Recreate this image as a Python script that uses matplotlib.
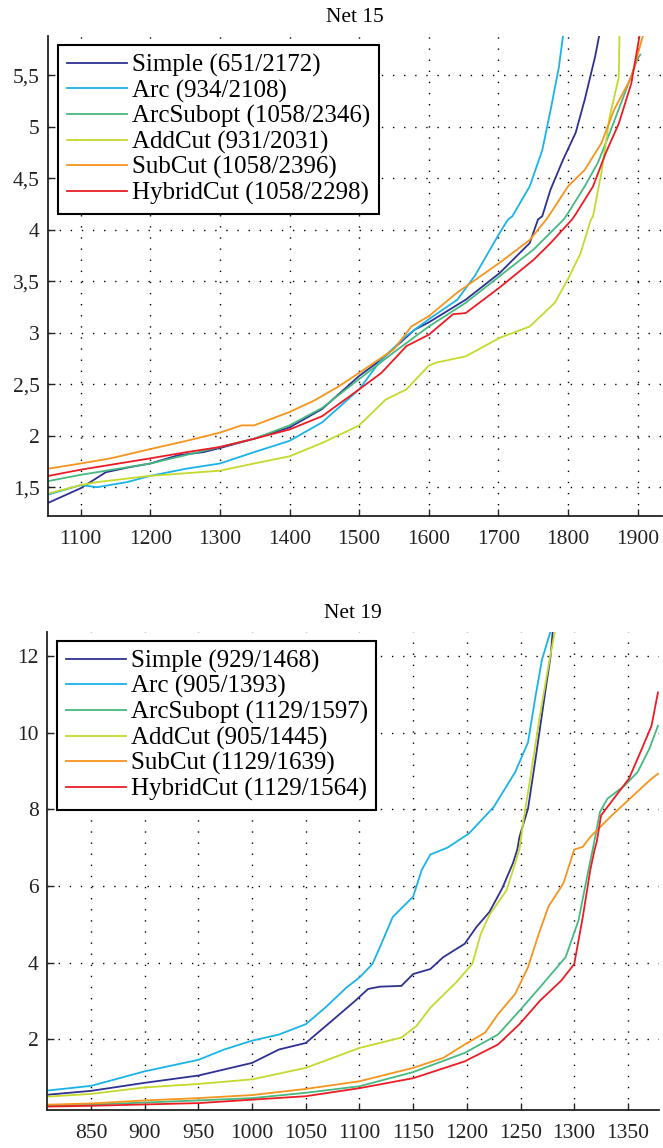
import numpy as np
import matplotlib.pyplot as plt
from matplotlib.ticker import FixedLocator, FixedFormatter

plt.rcParams['font.family'] = ['Liberation Serif', 'DejaVu Serif']

methods = ["Simple", "Arc", "ArcSubopt", "AddCut", "SubCut", "HybridCut"]
colors = ['#2e3192', '#1ab3e8', '#46b980', '#c5d92d', '#f7941d', '#ed1c24']

# Net 15
n15_counts = ["651/2172", "934/2108", "1058/2346", "931/2031", "1058/2396", "1058/2298"]
n15_simple_x = [1054, 1100, 1136, 1167, 1200, 1240, 1276, 1300, 1349, 1400, 1447, 1500, 1532, 1580, 1600,
                1653, 1702, 1745, 1757, 1763, 1775, 1793, 1811, 1824, 1839, 1845]
n15_simple_y = [1.35, 1.49, 1.645, 1.69, 1.73, 1.81, 1.84, 1.88, 1.97, 2.08, 2.26, 2.58, 2.74, 3.03, 3.10,
                3.32, 3.58, 3.87, 4.10, 4.13, 4.39, 4.68, 4.94, 5.26, 5.68, 5.89]
n15_arc_x = [1054, 1100, 1124, 1167, 1200, 1252, 1300, 1349, 1400, 1447, 1500, 1532, 1568, 1600, 1641,
             1666, 1702, 1714, 1720, 1745, 1763, 1775, 1787, 1793]
n15_arc_y = [1.43, 1.52, 1.50, 1.55, 1.61, 1.68, 1.73, 1.84, 1.95, 2.13, 2.45, 2.74, 2.97, 3.13, 3.32,
             3.55, 3.97, 4.10, 4.13, 4.42, 4.77, 5.16, 5.58, 5.89]
n15_arcsub_x = [1054, 1100, 1200, 1300, 1349, 1400, 1447, 1500, 1550, 1600, 1653, 1702, 1751, 1794, 1800,
                1824, 1843, 1860, 1878, 1900, 1904]
n15_arcsub_y = [1.56, 1.62, 1.73, 1.89, 1.97, 2.10, 2.27, 2.55, 2.81, 3.06, 3.29, 3.55, 3.81, 4.10, 4.16,
                4.42, 4.65, 4.94, 5.26, 5.66, 5.70]
n15_addcut_x = [1054, 1100, 1124, 1200, 1300, 1349, 1400, 1447, 1500, 1538, 1568, 1600, 1611, 1653, 1702,
                1745, 1781, 1800, 1818, 1833, 1836, 1848, 1860, 1873, 1874]
n15_addcut_y = [1.44, 1.52, 1.55, 1.61, 1.66, 1.73, 1.80, 1.93, 2.10, 2.35, 2.45, 2.68, 2.71, 2.77, 2.95,
                3.06, 3.29, 3.52, 3.77, 4.10, 4.13, 4.55, 5.10, 5.48, 5.89]
n15_subcut_x = [1054, 1100, 1143, 1200, 1252, 1300, 1331, 1349, 1400, 1435, 1471, 1500, 1550, 1575, 1600,
                1641, 1702, 1745, 1769, 1775, 1800, 1824, 1848, 1866, 1891, 1908]
n15_subcut_y = [1.68, 1.73, 1.78, 1.87, 1.95, 2.03, 2.10, 2.10, 2.23, 2.34, 2.48, 2.61, 2.84, 3.06, 3.16,
                3.39, 3.68, 3.90, 4.10, 4.16, 4.42, 4.58, 4.84, 5.16, 5.48, 5.89]
n15_hybrid_x = [1054, 1100, 1200, 1252, 1300, 1349, 1400, 1447, 1500, 1532, 1568, 1600, 1635, 1653, 1702,
                1751, 1775, 1806, 1812, 1836, 1854, 1873, 1891, 1903]
n15_hybrid_y = [1.61, 1.67, 1.78, 1.84, 1.89, 1.97, 2.06, 2.19, 2.45, 2.61, 2.87, 2.98, 3.18, 3.19, 3.44,
                3.71, 3.87, 4.10, 4.16, 4.42, 4.74, 5.03, 5.42, 5.89]
n15_xticks = [1100, 1200, 1300, 1400, 1500, 1600, 1700, 1800, 1900]
n15_yticks = [1.5, 2, 2.5, 3, 3.5, 4, 4.5, 5, 5.5]
n15_ylabels = ["1,5", "2", "2,5", "3", "3,5", "4", "4,5", "5", "5,5"]

# Net 19
n19_counts = ["929/1468", "905/1393", "1129/1597", "905/1445", "1129/1639", "1129/1564"]
n19_simple_x = [810, 850, 900, 950, 1000, 1025, 1050, 1076, 1096, 1108, 1119, 1139, 1150, 1166, 1178,
                1198, 1209, 1221, 1233, 1243, 1247, 1249, 1257, 1264, 1272, 1278, 1280]
n19_simple_y = [0.55, 0.65, 0.86, 1.05, 1.38, 1.73, 1.90, 2.52, 3.00, 3.31, 3.37, 3.39, 3.70, 3.83, 4.14,
                4.49, 4.93, 5.32, 5.94, 6.60, 6.95, 7.28, 8.02, 9.32, 10.87, 12.0, 12.65]
n19_arc_x = [810, 850, 900, 950, 974, 1000, 1025, 1050, 1068, 1088, 1100, 1112, 1119, 1131, 1150,
             1158, 1166, 1182, 1202, 1225, 1245, 1257, 1264, 1270, 1278]
n19_arc_y = [0.66, 0.78, 1.16, 1.46, 1.73, 1.96, 2.12, 2.39, 2.82, 3.35, 3.61, 3.96, 4.40, 5.19, 5.72,
             6.42, 6.82, 7.00, 7.37, 8.06, 8.97, 9.75, 10.96, 11.91, 12.65]
n19_arcsub_x = [810, 850, 950, 1000, 1050, 1100, 1150, 1198, 1229, 1249, 1268, 1292, 1304, 1312, 1318,
                1324, 1331, 1347, 1359, 1370, 1378]
n19_arcsub_y = [0.26, 0.29, 0.40, 0.46, 0.60, 0.77, 1.14, 1.64, 2.12, 2.74, 3.35, 4.14, 5.10, 6.24, 7.06,
                7.93, 8.28, 8.62, 8.97, 9.58, 10.18]
n19_addcut_x = [810, 850, 900, 950, 1000, 1050, 1100, 1139, 1153, 1166, 1190, 1205, 1213, 1221, 1237,
                1249, 1253, 1258, 1268, 1276, 1282]
n19_addcut_y = [0.50, 0.57, 0.74, 0.83, 0.95, 1.25, 1.77, 2.04, 2.34, 2.82, 3.48, 3.96, 4.75, 5.24, 5.89,
                6.95, 7.76, 8.62, 10.44, 11.74, 12.65]
n19_subcut_x = [810, 850, 900, 950, 1000, 1050, 1100, 1150, 1178, 1198, 1217, 1229, 1245, 1257, 1267,
                1276, 1290, 1300, 1308, 1315, 1335, 1355, 1370, 1378]
n19_subcut_y = [0.29, 0.32, 0.40, 0.46, 0.54, 0.70, 0.90, 1.25, 1.51, 1.86, 2.17, 2.65, 3.18, 3.88, 4.75,
                5.46, 6.07, 6.95, 7.02, 7.28, 7.84, 8.36, 8.75, 8.93]
n19_hybrid_x = [810, 850, 950, 1000, 1050, 1100, 1150, 1198, 1229, 1249, 1268, 1288, 1300, 1308, 1315,
                1319, 1321, 1325, 1339, 1351, 1363, 1372, 1378]
n19_hybrid_y = [0.24, 0.26, 0.33, 0.42, 0.51, 0.72, 0.98, 1.42, 1.86, 2.39, 3.00, 3.53, 3.96, 5.19, 6.42,
                6.95, 7.15, 7.84, 8.36, 8.80, 9.58, 10.18, 11.05]
n19_xticks = [850, 900, 950, 1000, 1050, 1100, 1150, 1200, 1250, 1300, 1350]
n19_yticks = [2, 4, 6, 8, 10, 12]
n19_ylabels = ["2", "4", "6", "8", "10", "12"]

fig = plt.figure(figsize=(6.63, 11.48), dpi=100)
ax1 = fig.add_axes([0.0724, 0.5505, 0.926, 0.4181])
ax2 = fig.add_axes([0.071, 0.0331, 0.923, 0.4164])

panels = [
    (ax1, "Net 15", n15_counts,
     [(n15_simple_x, n15_simple_y), (n15_arc_x, n15_arc_y), (n15_arcsub_x, n15_arcsub_y),
      (n15_addcut_x, n15_addcut_y), (n15_subcut_x, n15_subcut_y), (n15_hybrid_x, n15_hybrid_y)],
     (1053, 1935), (1.22, 5.88), n15_xticks, n15_yticks, n15_ylabels),
    (ax2, "Net 19", n19_counts,
     [(n19_simple_x, n19_simple_y), (n19_arc_x, n19_arc_y), (n19_arcsub_x, n19_arcsub_y),
      (n19_addcut_x, n19_addcut_y), (n19_subcut_x, n19_subcut_y), (n19_hybrid_x, n19_hybrid_y)],
     (809, 1379), (0.15, 12.63), n19_xticks, n19_yticks, n19_ylabels),
]

for ax, title, counts, curves, xlim, ylim, xt, yt, yl in panels:
    for (xs, ys), name, cnt, col in zip(curves, methods, counts, colors):
        ax.plot(xs, ys, color=col, lw=1.3, label=f"{name} ({cnt})")
    ax.set_xlim(*xlim)
    ax.set_ylim(*ylim)
    ax.xaxis.set_major_locator(FixedLocator(xt))
    ax.yaxis.set_major_locator(FixedLocator(yt))
    ax.yaxis.set_major_formatter(FixedFormatter(yl))
    ax.grid(True, linestyle=(0, (1, 7)), color='k', linewidth=1.0)
    ax.spines['top'].set_visible(False)
    ax.spines['right'].set_visible(False)
    for s in ['left', 'bottom']:
        ax.spines[s].set_linewidth(1.3)
        ax.spines[s].set_color('#222222')
    ax.tick_params(axis='both', direction='in', length=5, width=1, labelsize=15.5, colors='#222222')
    ax.tick_params(axis='x', pad=10)
    ax.tick_params(axis='y', pad=6)
    ax.set_title(title, fontsize=15.5, pad=10)
    leg = ax.legend(loc='upper left', bbox_to_anchor=(0.016, 0.981), borderaxespad=0,
                    fontsize=18, handlelength=2.4, handletextpad=0.2, labelspacing=0.1,
                    borderpad=0.35, fancybox=False, framealpha=1, edgecolor='k')
    leg.get_frame().set_linewidth(1.5)

fig.savefig("out.png", dpi=100)
